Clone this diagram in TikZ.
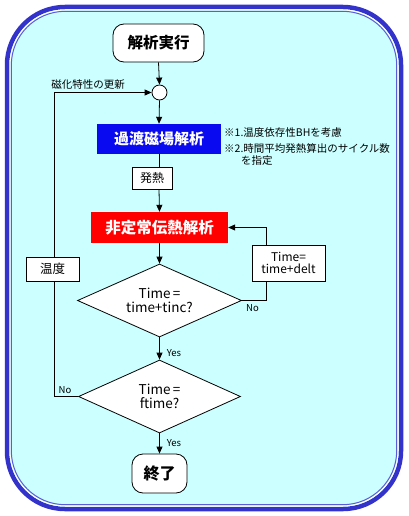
\documentclass[tikz,border=0pt]{standalone}
\usepackage{fontspec}
\setmainfont{Noto Sans CJK JP}
\usetikzlibrary{arrows.meta,shapes.geometric}
\definecolor{bgcyan}{HTML}{CCFFFF}
\definecolor{frameblue}{HTML}{3333CC}
\definecolor{boxblue}{HTML}{0A0AF0}
\definecolor{boxred}{HTML}{FF0000}
\newcommand\myfs[1]{\fontsize{#1pt}{1.25\dimexpr#1pt\relax}\selectfont}
\tikzset{
  conn/.style={draw=black, line width=0.8pt},
  arr/.style={conn, -{Triangle[length=7pt,width=6pt]}},
  termbox/.style={draw=black, line width=0.8pt, fill=white, rounded corners=11pt, inner sep=0pt},
  plainbox/.style={draw=black, line width=0.8pt, fill=white, inner sep=0pt},
  colbox/.style={inner sep=0pt, text=white},
  decision/.style={diamond, draw=black, line width=0.8pt, fill=white, inner sep=0pt, aspect=2.2},
  smalltxt/.style={inner sep=0pt, font=\myfs{10.5}},
}
\begin{document}
\begin{tikzpicture}[x=1pt,y=-1pt]
\useasboundingbox (0,0) rectangle (408,516);
% frame
\fill[white] (0,0) rectangle (408,516);
\draw[frameblue, line width=4.5pt, fill=bgcyan, rounded corners=58pt] (7,7) rectangle (401,509);
\draw[white, line width=1pt, rounded corners=55pt] (10,10) rectangle (398,506);
\draw[frameblue!80, line width=1pt, rounded corners=54pt] (11.3,11.3) rectangle (396.7,504.7);

% nodes
\node[termbox, minimum width=91pt, minimum height=38pt] (start) at (158.5,43) {\myfs{15.5}\bfseries 解析実行};
\node[circle, draw=black, line width=0.8pt, fill=white, minimum size=15pt, inner sep=0pt] (join) at (159.5,92.5) {};
\node[colbox, fill=boxblue, minimum width=124pt, minimum height=30pt] (mag) at (159,139) {\myfs{15}\bfseries 過渡磁場解析};
\node[plainbox, minimum width=40pt, minimum height=22pt] (heat) at (152,178) {\myfs{12}発熱};
\node[colbox, fill=boxred, minimum width=137pt, minimum height=31pt] (therm) at (159.5,227.5) {\myfs{15.5}\bfseries 非定常伝熱解析};
\node[decision, minimum width=164pt, minimum height=73pt] (d1) at (159.5,300.5) {};
\node[align=center, inner sep=0pt, font=\myfs{13.5}] at (159.5,300.5) {Time\,=\\[-3pt]time+tinc?};
\node[plainbox, minimum width=73pt, minimum height=36pt, align=center, font=\myfs{12}] (delt) at (288.5,263) {Time=\\[-3pt]time+delt};
\node[decision, minimum width=162pt, minimum height=73pt] (d2) at (159.5,396.5) {};
\node[align=center, inner sep=0pt, font=\myfs{13.5}] at (159.5,396.5) {Time\,=\\[-3pt]ftime?};
\node[termbox, minimum width=55pt, minimum height=39pt] (stop) at (159.5,473.5) {\myfs{16}\bfseries 終了};
\node[plainbox, minimum width=53pt, minimum height=24pt] (temp) at (52.5,269) {\myfs{12.5}温度};

\coordinate (dr) at (266,300.5);
\coordinate (tr) at (266,227.5);
\coordinate (dl) at (54,396.5);
\coordinate (jl) at (54,92.5);

% connectors
\draw[arr] (start.south) -- (join.north);
\draw[arr] (join.south) -- (mag.north);
\draw[conn] (mag.south) -- (mag.south |- heat.north);
\draw[arr] (mag.south |- heat.south) -- (therm.north);
\draw[arr] (therm.south) -- (d1.north);
\draw[conn] (d1.east) -- (dr) -- (dr |- delt.south);
\draw[arr] (dr |- delt.north) -- (tr) -- (therm.east);
\draw[arr] (d1.south) -- (d2.north);
\draw[arr] (d2.south) -- (stop.north);
\draw[conn] (d2.west) -- (dl) -- (dl |- temp.south);
\draw[arr] (dl |- temp.north) -- (jl) -- (join.west);

% labels
\node[smalltxt] at (88,85) {磁化特性の更新};
\node[smalltxt, anchor=west] at (224,133) {※1.温度依存性BHを考慮};
\node[smalltxt, anchor=west] at (224,149) {※2.時間平均発熱算出のサイクル数};
\node[smalltxt, anchor=west] at (241,161) {を指定};
\node[smalltxt, font=\myfs{9.5}] at (252.5,308) {No};
\node[smalltxt, font=\myfs{9.5}] at (174,353) {Yes};
\node[smalltxt, font=\myfs{9.5}] at (65,390) {No};
\node[smalltxt, font=\myfs{9.5}] at (174,443) {Yes};
\end{tikzpicture}
\end{document}
